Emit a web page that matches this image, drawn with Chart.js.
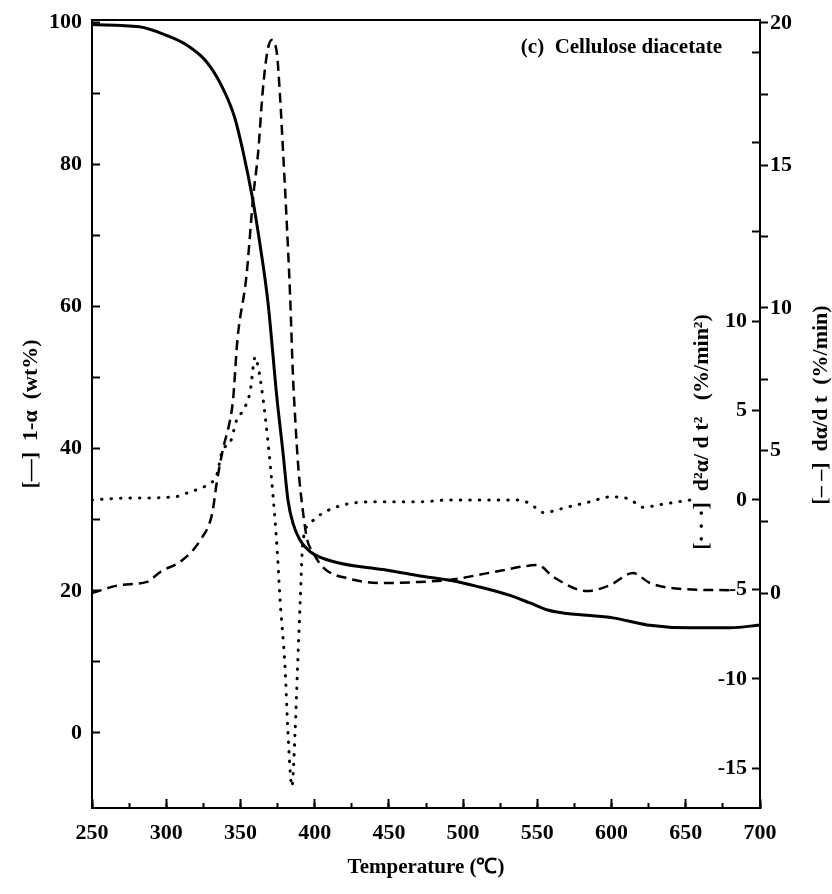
<!DOCTYPE html>
<html lang="en">
<head>
  <meta charset="UTF-8" />
  <title>Cellulose diacetate</title>
  <script src="https://cdn.jsdelivr.net/npm/chart.js"></script>
  <style>
    html, body { margin: 0; padding: 0; background: #fff; }
    canvas { display: block; }
  </style>
</head>
<body>
  <canvas id="chartTG" width="832" height="894"></canvas>

  <script>
    // 1-alpha (wt%), left axis
    const massT = [250, 282, 300, 314, 327, 338, 346, 352, 358, 363, 368.6, 374.5, 378.7, 382, 385.4, 390, 397, 415, 446, 471, 491, 510, 531, 545, 557, 570, 581, 601, 624, 653, 680, 700];
    const massV = [99.7, 99.4, 98.2, 96.8, 94.5, 90.8, 86.7, 81.6, 75.4, 69, 60.5, 47.3, 39.4, 32.8, 29.5, 27.2, 25.5, 24, 23, 22.1, 21.5, 20.6, 19.4, 18.3, 17.3, 16.8, 16.6, 16.2, 15.2, 14.8, 14.8, 15.2];

    // d(alpha)/dt (%/min), outer right axis
    const rateT = [250, 269, 287, 296, 311, 323, 331, 334, 338, 343, 345, 348, 354, 358.6, 362, 365, 368, 371, 374.5, 376.7, 378.7, 381, 383.4, 385.4, 386.8, 389, 392, 395, 398, 405.6, 421.8, 446, 471, 491, 520, 550.5, 560.6, 583.5, 599, 614.5, 626, 648, 680];
    const rateV = [0, 0.28, 0.39, 0.74, 1.16, 1.86, 2.8, 3.86, 5.0, 6.07, 6.77, 8.9, 11.1, 13.9, 15.5, 17.6, 18.95, 19.4, 18.95, 17.4, 15.5, 13.2, 10.5, 7.6, 6.2, 4.4, 2.9, 1.86, 1.5, 0.9, 0.52, 0.35, 0.39, 0.46, 0.73, 0.98, 0.57, 0.07, 0.28, 0.7, 0.35, 0.14, 0.1];

    // d2(alpha)/dt2 (%/min2), inner right axis
    const accT = [250, 271, 305, 316, 327.5, 334, 338, 343, 347.6, 351.7, 356.4, 360, 362, 365, 368.6, 372, 374.6, 376.7, 380, 382, 384.7, 386.8, 388.5, 390.3, 392, 397, 405.6, 419, 439, 471, 491, 536, 545, 554, 570, 585.5, 599, 612, 621, 637, 653];
    const accV = [0, 0.1, 0.17, 0.45, 0.84, 1.4, 2.8, 3.2, 4.5, 5.0, 6.0, 8.0, 7.4, 5.8, 3.2, 0.17, -2.6, -5.6, -9.3, -13, -16.0, -13, -9.3, -5.6, -2.4, -1.3, -0.73, -0.28, -0.1, -0.1, 0, 0, -0.2, -0.7, -0.4, -0.1, 0.17, 0.05, -0.4, -0.2, 0];

    // labelled ticks
    const xTicks = [250, 300, 350, 400, 450, 500, 550, 600, 650, 700];
    const massTicks = [0, 20, 40, 60, 80, 100];
    const rateTicks = [0, 5, 10, 15, 20];
    const accTicks = [-15, -10, -5, 0, 5, 10];

    const serif = '"Liberation Serif", "Times New Roman", serif';
    const tickFont = { family: serif, size: 22, weight: 'bold' };
    const titleFont = { family: serif, size: 21, weight: 'bold' };
    const hidden = 'rgba(0,0,0,0)';

    const pts = (xs, ys) => xs.map((x, i) => ({ x: x, y: ys[i] }));

    // fixed box sizes so the plot frame sits where it does in the figure
    const fixBox = (w, h) => s => {
      if (w !== null) s.width = w;
      if (h !== null) s.height = h;
      s.paddingTop = 0;
      s.paddingBottom = 0;
      s.paddingLeft = 0;
      s.paddingRight = 0;
    };

    // titles that Chart.js can not place (inside the plot / reading upwards on the right)
    const extraText = {
      id: 'extraText',
      afterDraw(chart) {
        const ctx = chart.ctx;
        const area = chart.chartArea;
        ctx.save();
        ctx.fillStyle = '#000';
        ctx.font = 'bold 21px ' + serif;
        ctx.textAlign = 'right';
        ctx.textBaseline = 'middle';
        ctx.fillText('(c)  Cellulose diacetate', area.right - 38, 48);

        ctx.font = 'bold 22px ' + serif;
        ctx.textAlign = 'center';
        [['[– –]  dα/d t  (%/min)', 821, 405], ['[· · ·]  d²α/ d t²   (%/min²)', 702, 432]].forEach(([t, x, y]) => {
          ctx.save();
          ctx.translate(x, y);
          ctx.rotate(-Math.PI / 2);
          ctx.fillText(t, 0, 0);
          ctx.restore();
        });
        ctx.restore();
      }
    };

    new Chart(document.getElementById('chartTG'), {
      type: 'line',
      data: {
        datasets: [
          {
            label: '1-α',
            data: pts(massT, massV),
            yAxisID: 'y',
            borderColor: '#000',
            borderWidth: 3,
            pointRadius: 0,
            cubicInterpolationMode: 'monotone'
          },
          {
            label: 'dα/dt',
            data: pts(rateT, rateV),
            yAxisID: 'yRate',
            borderColor: '#000',
            borderWidth: 2.5,
            borderDash: [10, 6],
            pointRadius: 0,
            cubicInterpolationMode: 'monotone'
          },
          {
            label: 'd²α/dt²',
            data: pts(accT, accV),
            yAxisID: 'yAcc',
            borderColor: '#000',
            borderWidth: 3,
            borderDash: [0.5, 9],
            borderCapStyle: 'round',
            pointRadius: 0,
            cubicInterpolationMode: 'monotone'
          }
        ]
      },
      options: {
        responsive: false,
        animation: false,
        layout: { padding: { top: 20, left: 0, right: 0, bottom: 0 } },
        plugins: {
          legend: { display: false },
          tooltip: { enabled: false }
        },
        scales: {
          // short minor ticks every 25 degrees, no labels
          xMinor: {
            type: 'linear',
            position: 'bottom',
            weight: 0,
            min: 250,
            max: 700,
            border: { display: false },
            grid: { drawOnChartArea: false, tickLength: -5, tickWidth: 2, tickColor: '#000' },
            ticks: { stepSize: 25, autoSkip: false, maxRotation: 0, callback: () => '' },
            afterFit: fixBox(null, 0)
          },
          x: {
            type: 'linear',
            position: 'bottom',
            weight: 1,
            min: 250,
            max: 700,
            border: { color: '#000', width: 2 },
            grid: { drawOnChartArea: false, tickLength: -9, tickWidth: 2, tickColor: '#000' },
            ticks: {
              stepSize: 50,
              padding: 21,
              autoSkip: false,
              maxRotation: 0,
              includeBounds: false,
              color: '#000',
              font: tickFont,
              callback: v => xTicks.includes(v) ? String(v) : ''
            },
            title: { display: true, text: 'Temperature (℃)', color: '#000', font: titleFont, padding: { top: 0, bottom: 14 } },
            afterFit: fixBox(null, 86)
          },
          xTop: {
            type: 'linear',
            position: 'top',
            min: 250,
            max: 700,
            border: { color: '#000', width: 2 },
            grid: { display: false },
            ticks: { display: false },
            afterFit: fixBox(null, 0)
          },
          y: {
            position: 'left',
            min: -10.56,
            max: 100.35,
            border: { color: '#000', width: 2 },
            grid: {
              drawOnChartArea: false,
              tickLength: -8,
              tickWidth: 2,
              tickColor: c => (c.tick && c.tick.value < 0) ? hidden : '#000'
            },
            ticks: {
              stepSize: 10,
              padding: 18,
              includeBounds: false,
              color: '#000',
              font: tickFont,
              callback: v => massTicks.includes(v) ? String(v) : ''
            },
            title: { display: true, text: '[—]  1-α  (wt%)', color: '#000', font: { family: serif, size: 22, weight: 'bold' }, padding: { top: 18, bottom: 0 } },
            afterFit: fixBox(92, null)
          },
          yAcc: {
            position: 'right',
            weight: 0,
            min: -17.21,
            max: 26.82,
            border: { display: false },
            grid: { drawOnChartArea: false, tickLength: -8, tickWidth: 2, tickColor: '#000' },
            ticks: {
              stepSize: 5,
              mirror: true,
              padding: -13,
              includeBounds: false,
              color: '#000',
              font: tickFont,
              callback: v => accTicks.includes(v) ? String(v) : ''
            },
            afterFit: fixBox(0, null)
          },
          yRate: {
            position: 'right',
            weight: 1,
            min: -7.54,
            max: 20.1,
            border: { color: '#000', width: 2 },
            grid: {
              drawOnChartArea: false,
              tickLength: 8,
              tickWidth: 2,
              tickColor: c => (c.tick && c.tick.value < 0) ? hidden : '#000'
            },
            ticks: {
              stepSize: 2.5,
              padding: 2,
              includeBounds: false,
              color: '#000',
              font: tickFont,
              callback: v => rateTicks.includes(v) ? String(v) : ''
            },
            afterFit: fixBox(72, null)
          }
        }
      },
      plugins: [extraText]
    });
  </script>
</body>
</html>
